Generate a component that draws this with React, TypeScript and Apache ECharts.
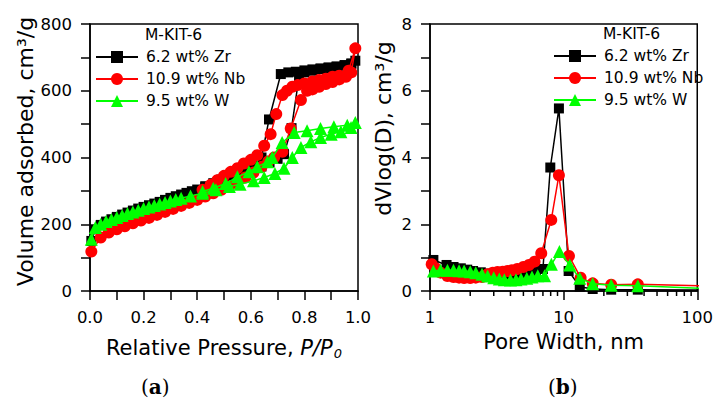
import React, { useEffect, useRef } from 'react';
import * as echarts from 'echarts';

const FONT = 'DejaVu Sans';

const seriesNames = ['6.2 wt% Zr', '10.9 wt% Nb', '9.5 wt% W'];
const seriesColors = ['#000000', '#ff0000', '#00ff00'];
const seriesSymbols = ['rect', 'circle', 'triangle'];
const seriesSymbolSizes = [10, 12, 13];

// (a) isotherms: [P/P0, volume adsorbed cm3/g]
const zrAdsorption = [
  [0.005, 150], [0.02, 185], [0.04, 198], [0.06, 208], [0.08, 215], [0.1, 222], [0.12, 229], [0.14, 235],
  [0.16, 241], [0.18, 247], [0.2, 252], [0.22, 257], [0.24, 262], [0.26, 267], [0.28, 273], [0.3, 279],
  [0.32, 284], [0.34, 289], [0.36, 294], [0.38, 299], [0.4, 304], [0.43, 311], [0.46, 318], [0.49, 326],
  [0.52, 334], [0.55, 343], [0.58, 352], [0.61, 362], [0.64, 373], [0.67, 385], [0.7, 396], [0.724, 410],
  [0.752, 488], [0.78, 642], [0.8, 655], [0.83, 660], [0.86, 665], [0.89, 668], [0.92, 671], [0.95, 675],
  [0.975, 680], [0.99, 690],
];
const zrDesorption = [
  [0.975, 682], [0.95, 677], [0.92, 673], [0.89, 670], [0.86, 667], [0.83, 664], [0.8, 661], [0.768, 657],
  [0.74, 655], [0.712, 650], [0.668, 514], [0.64, 400], [0.618, 387], [0.595, 378], [0.574, 370],
  [0.55, 358], [0.52, 346], [0.49, 334], [0.46, 323], [0.43, 314],
];
const nbAdsorption = [
  [0.005, 118], [0.04, 160], [0.07, 175], [0.1, 185], [0.13, 194], [0.16, 203], [0.19, 211], [0.22, 219],
  [0.25, 228], [0.28, 237], [0.31, 246], [0.34, 255], [0.37, 264], [0.4, 273], [0.43, 283], [0.46, 293],
  [0.49, 303], [0.52, 314], [0.55, 326], [0.58, 340], [0.61, 355], [0.64, 372], [0.665, 388], [0.687, 400],
  [0.718, 417], [0.749, 487], [0.787, 572], [0.81, 600], [0.83, 604], [0.855, 612], [0.88, 620],
  [0.905, 626], [0.93, 634], [0.955, 642], [0.975, 655], [0.99, 727],
];
const nbDesorption = [
  [0.965, 660], [0.93, 645], [0.905, 642], [0.88, 636], [0.855, 632], [0.83, 628], [0.8, 622], [0.775, 617],
  [0.755, 612], [0.735, 600], [0.718, 587], [0.695, 530], [0.674, 470], [0.65, 435], [0.624, 407],
  [0.6, 393], [0.574, 382], [0.55, 368], [0.525, 357], [0.5, 345], [0.475, 332], [0.45, 318], [0.42, 303],
];
const wAdsorption = [
  [0.005, 155], [0.02, 190], [0.04, 200], [0.06, 208], [0.08, 214], [0.1, 220], [0.12, 226], [0.14, 232],
  [0.16, 237], [0.18, 242], [0.2, 247], [0.22, 252], [0.24, 256], [0.26, 261], [0.28, 265], [0.3, 270],
  [0.32, 274], [0.34, 278], [0.375, 285], [0.42, 293], [0.47, 303], [0.52, 313], [0.56, 320], [0.61, 330],
  [0.65, 340], [0.69, 352], [0.724, 368], [0.755, 400], [0.787, 430], [0.824, 447], [0.86, 460],
  [0.9, 470], [0.936, 477], [0.974, 490], [0.99, 505],
];
const wDesorption = [
  [0.96, 497], [0.91, 492], [0.86, 487], [0.81, 480], [0.762, 475], [0.717, 445], [0.68, 400], [0.662, 387],
  [0.624, 372], [0.593, 357], [0.55, 342], [0.506, 322], [0.46, 308], [0.42, 298],
];

// (b) pore size distributions: [pore width nm, dV/dlog(D) cm3/g]
const zrPsd = [
  [1.06, 0.93], [1.33, 0.78], [1.5, 0.72], [1.7, 0.68], [1.9, 0.64], [2.1, 0.6], [2.4, 0.56], [2.7, 0.52],
  [3.0, 0.5], [3.3, 0.48], [3.6, 0.47], [4.0, 0.47], [4.4, 0.48], [4.8, 0.5], [5.2, 0.52], [5.7, 0.55],
  [6.2, 0.6], [7.0, 0.66], [7.95, 3.7], [9.22, 5.47], [10.9, 0.6], [13.2, 0.13], [16.5, 0.06],
  [22.7, 0.04], [35.9, 0.04], [120, 0.03],
];
const nbPsd = [
  [1.03, 0.8], [1.1, 0.68], [1.2, 0.55], [1.35, 0.45], [1.5, 0.42], [1.65, 0.4], [1.8, 0.39], [2.0, 0.39],
  [2.2, 0.4], [2.45, 0.42], [2.7, 0.5], [2.95, 0.55], [3.2, 0.57], [3.5, 0.58], [3.8, 0.6], [4.1, 0.62],
  [4.5, 0.66], [5.0, 0.72], [5.5, 0.78], [6.06, 0.88], [6.8, 1.13], [8.08, 2.13], [9.22, 3.47],
  [10.96, 1.05], [13.4, 0.4], [16.5, 0.23], [22.7, 0.19], [35.9, 0.2], [120, 0.15],
];
const wPsd = [
  [1.06, 0.6], [1.2, 0.62], [1.35, 0.62], [1.5, 0.62], [1.65, 0.61], [1.8, 0.6], [2.0, 0.58], [2.2, 0.55],
  [2.45, 0.5], [2.7, 0.45], [3.0, 0.4], [3.3, 0.36], [3.6, 0.34], [4.0, 0.33], [4.4, 0.34], [4.8, 0.36],
  [5.3, 0.38], [5.8, 0.42], [6.4, 0.46], [7.2, 0.46], [8.1, 0.8], [9.3, 1.18], [11.1, 0.78], [13.2, 0.38],
  [16.5, 0.22], [22.7, 0.17], [35.9, 0.16], [120, 0.07],
];

const logMinorTicks = [2, 3, 4, 5, 6, 7, 8, 9, 20, 30, 40, 50, 60, 70, 80, 90];

const isotherms = [zrAdsorption.concat(zrDesorption), nbAdsorption.concat(nbDesorption), wAdsorption.concat(wDesorption)];
const psds = [zrPsd, nbPsd, wPsd];

function makeSeries(i: number, data: number[][], axisIndex: number) {
  const color = seriesColors[i];
  return {
    type: 'line',
    name: seriesNames[i],
    xAxisIndex: axisIndex,
    yAxisIndex: axisIndex,
    data,
    symbol: seriesSymbols[i],
    symbolSize: seriesSymbolSizes[i],
    showSymbol: true,
    showAllSymbol: true,
    color,
    lineStyle: { color, width: 1.5 },
    itemStyle: { color },
    clip: true,
    z: 2 + i,
  };
}

const axisLine = { show: true, lineStyle: { color: '#000', width: 1.5 } };
const axisTick = { show: true, inside: false, length: 9, lineStyle: { color: '#000', width: 1.5 } };
const labelStyle = { color: '#000', fontFamily: FONT, fontSize: 16.5 };
const nameStyle = { color: '#000', fontFamily: FONT, fontSize: 21 };

function legendFor(left: number, top: number) {
  return {
    data: seriesNames,
    orient: 'vertical',
    left,
    top,
    padding: 0,
    itemWidth: 42,
    itemHeight: 15,
    itemGap: 6,
    selectedMode: false,
    textStyle: { color: '#000', fontFamily: FONT, fontSize: 15.5, padding: [0, 0, 0, 3] },
  };
}

export default function App() {
  const ref = useRef<HTMLDivElement>(null);
  useEffect(() => {
    const chart = echarts.init(ref.current!, null, { renderer: 'svg' });
    const option: any = {
      animation: false,
      backgroundColor: '#fff',
      grid: [
        { left: 90, top: 24, width: 268, height: 267, show: true, borderColor: '#000', borderWidth: 1.5, backgroundColor: 'transparent' },
        { left: 430, top: 24, width: 268, height: 267, show: true, borderColor: '#000', borderWidth: 1.5, backgroundColor: 'transparent' },
      ],
      xAxis: [
        {
          type: 'value', gridIndex: 0, min: 0, max: 1, interval: 0.1,
          axisLine, axisTick, splitLine: { show: false },
          axisLabel: {
            ...labelStyle, margin: 18,
            formatter: (v: number) => (Math.round(v * 10) % 2 === 0 ? v.toFixed(1) : ''),
          },
          name: 'Relative Pressure, {i|P/P}{s|0}',
          nameLocation: 'middle',
          nameGap: 44,
          nameTextStyle: {
            ...nameStyle,
            rich: {
              i: { fontFamily: FONT, fontSize: 21, fontStyle: 'italic', color: '#000' },
              s: { fontFamily: FONT, fontSize: 13, fontStyle: 'italic', color: '#000', padding: [12, 0, 0, 1] },
            },
          },
        },
        {
          type: 'log', logBase: 10, gridIndex: 1, min: 1, max: 100,
          axisLine, axisTick, splitLine: { show: false }, minorTick: { show: false },
          axisLabel: { ...labelStyle, margin: 18 },
          name: 'Pore Width, nm',
          nameLocation: 'middle',
          nameGap: 40,
          nameTextStyle: nameStyle,
        },
      ],
      yAxis: [
        {
          type: 'value', gridIndex: 0, min: 0, max: 800, interval: 100,
          axisLine, axisTick, splitLine: { show: false },
          axisLabel: { ...labelStyle, margin: 18, formatter: (v: number) => (v % 200 === 0 ? String(v) : '') },
          name: 'Volume adsorbed, cm³/g',
          nameLocation: 'middle',
          nameGap: 54,
          nameTextStyle: { ...nameStyle, fontSize: 22, padding: [0, 0, 0, 12] },
        },
        {
          type: 'value', gridIndex: 1, min: 0, max: 8, interval: 1,
          axisLine, axisTick, splitLine: { show: false },
          axisLabel: { ...labelStyle, margin: 18, formatter: (v: number) => (v % 2 === 0 ? String(v) : '') },
          name: 'dVlog(D), cm³/g',
          nameLocation: 'middle',
          nameGap: 36,
          nameTextStyle: { ...nameStyle, fontSize: 22, padding: [0, 0, 0, 58] },
        },
      ],
      legend: [legendFor(95, 49), legendFor(553, 48)],
      graphic: [
        { type: 'text', left: 145, top: 27, style: { text: 'M-KIT-6', fill: '#000', font: `15.5px "${FONT}"` } },
        { type: 'text', left: 603, top: 26, style: { text: 'M-KIT-6', fill: '#000', font: `15.5px "${FONT}"` } },
        {
          type: 'text', left: 141, top: 377,
          style: {
            text: '{p|(}{b|a}{p|)}',
            rich: {
              p: { fontFamily: 'DejaVu Serif', fontSize: 20, fill: '#000' },
              b: { fontFamily: 'DejaVu Serif', fontSize: 20, fontWeight: 'bold', fill: '#000' },
            },
          },
        },
        {
          type: 'text', left: 548, top: 377,
          style: {
            text: '{p|(}{b|b}{p|)}',
            rich: {
              p: { fontFamily: 'DejaVu Serif', fontSize: 20, fill: '#000' },
              b: { fontFamily: 'DejaVu Serif', fontSize: 20, fontWeight: 'bold', fill: '#000' },
            },
          },
        },
      ],
      series: [
        ...isotherms.map((d, i) => makeSeries(i, d, 0)),
        ...psds.map((d, i) => makeSeries(i, d, 1)),
        {
          type: 'custom',
          name: 'log minor ticks',
          xAxisIndex: 1,
          yAxisIndex: 1,
          silent: true,
          clip: false,
          data: logMinorTicks.map((v) => [v, 0]),
          renderItem: (params: any, api: any) => {
            const p = api.coord([api.value(0), 0]);
            return {
              type: 'line',
              shape: { x1: p[0], y1: p[1], x2: p[0], y2: p[1] + 5 },
              style: { stroke: '#000', lineWidth: 1.5 },
            };
          },
          z: 10,
        },
      ],
    };
    chart.setOption(option);
    return () => chart.dispose();
  }, []);
  return <div ref={ref} style={{ position: 'fixed', left: 0, top: 0, width: 716, height: 403 }} />;
}
